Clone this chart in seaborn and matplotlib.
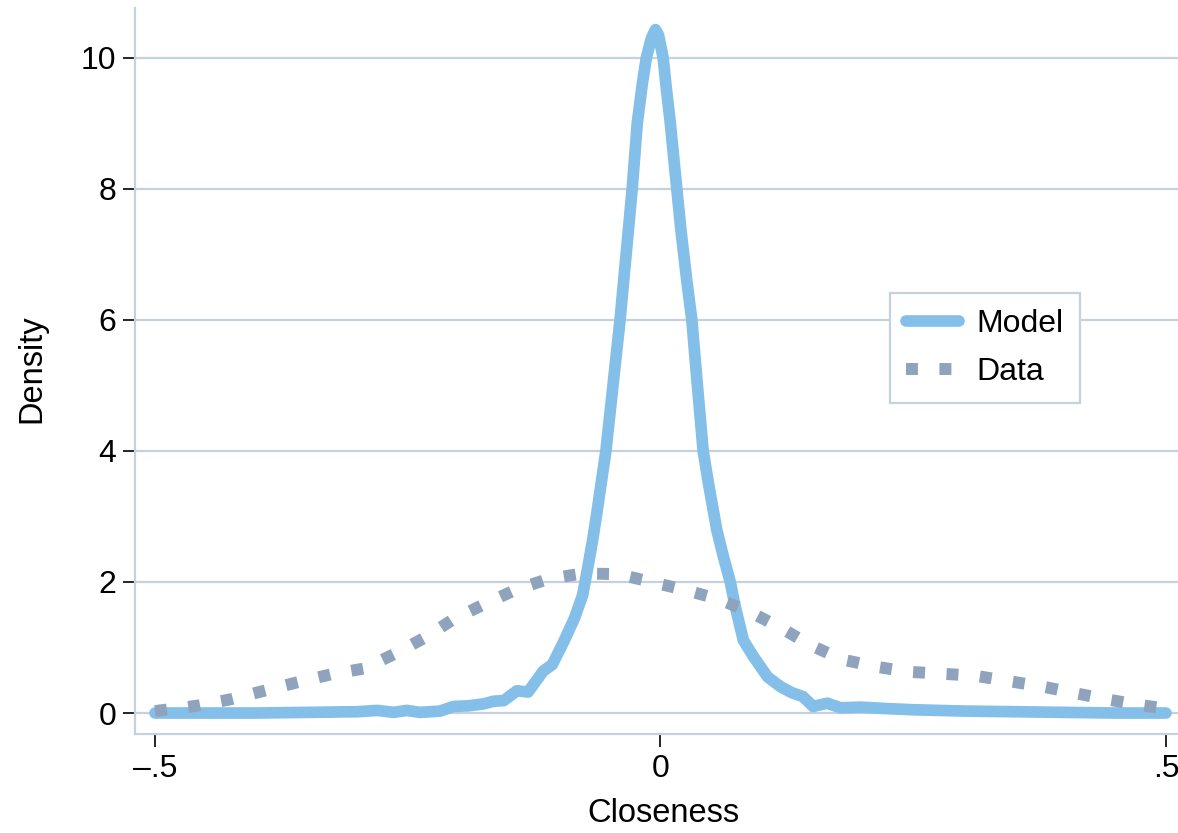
import numpy as np
import pandas as pd
import matplotlib
matplotlib.use("Agg")
import matplotlib.pyplot as plt
import seaborn as sns

# ---- data ----
model_x = [-0.5, -0.45, -0.40, -0.35, -0.30, -0.28, -0.264, -0.251, -0.238, -0.218,
           -0.205, -0.19, -0.175, -0.165, -0.155, -0.142, -0.131, -0.116, -0.107, -0.096,
           -0.085, -0.077, -0.071, -0.067, -0.063, -0.054, -0.047, -0.040, -0.034, -0.028,
           -0.023, -0.018, -0.014, -0.009, -0.005, -0.002, 0.0026, 0.006, 0.0094, 0.0155,
           0.020, 0.026, 0.031, 0.0365, 0.0422, 0.0475, 0.0556, 0.062, 0.069, 0.074,
           0.082, 0.092, 0.106, 0.119, 0.130, 0.141, 0.151, 0.165, 0.178, 0.198,
           0.221, 0.25, 0.30, 0.35, 0.40, 0.45, 0.5]
model_y = [0.0, 0.0, 0.0, 0.01, 0.02, 0.04, 0.01, 0.04, 0.01, 0.03,
           0.10, 0.11, 0.14, 0.18, 0.19, 0.34, 0.32, 0.64, 0.74, 1.08,
           1.45, 1.80, 2.30, 2.65, 3.05, 4.0, 5.0, 6.0, 7.0, 8.0,
           9.0, 9.6, 10.0, 10.3, 10.43, 10.35, 10.0, 9.5, 9.05, 8.1,
           7.4, 6.6, 6.0, 5.0, 4.0, 3.5, 2.8, 2.4, 2.0, 1.62,
           1.11, 0.86, 0.55, 0.40, 0.31, 0.25, 0.10, 0.15, 0.08, 0.09,
           0.07, 0.05, 0.03, 0.02, 0.01, 0.0, 0.0]

data_x = [-0.5, -0.459, -0.425, -0.392, -0.359, -0.326, -0.293, -0.262, -0.232, -0.204,
          -0.173, -0.142, -0.110, -0.077, -0.042, -0.009, 0.024, 0.057, 0.089, 0.119,
          0.148, 0.179, 0.212, 0.245, 0.278, 0.311, 0.343, 0.376, 0.408, 0.441,
          0.475, 0.5]
data_y = [0.03, 0.11, 0.21, 0.34, 0.47, 0.59, 0.68, 0.91, 1.16, 1.44,
          1.67, 1.89, 2.05, 2.13, 2.12, 2.0, 1.88, 1.74, 1.54, 1.30,
          1.04, 0.82, 0.71, 0.63, 0.60, 0.57, 0.49, 0.41, 0.31, 0.21,
          0.12, 0.07]

series_labels = ["Model", "Data"]
x_ticks = [-0.5, 0, 0.5]
x_ticklabels = ["\u2013.5", "0", ".5"]
y_ticks = [0, 2, 4, 6, 8, 10]
y_ticklabels = ["0", "2", "4", "6", "8", "10"]
x_label = "Closeness"
y_label = "Density"

MODEL_COLOR = "#83bfe8"
DATA_COLOR = "#8fa3bc"
GRID_COLOR = "#c6d1de"

sns.set_theme(style="white")
plt.rcParams["font.family"] = ["Liberation Sans", "DejaVu Sans"]
plt.rcParams["text.color"] = "black"

W, H = 1178, 833
fig = plt.figure(figsize=(W / 100, H / 100), dpi=100)
ax = fig.add_axes([135 / W, 1 - 734 / H, (W - 135) / W, (734 - 8) / H])

df_model = pd.DataFrame({"x": model_x, "y": model_y})
df_data = pd.DataFrame({"x": data_x, "y": data_y})

sns.lineplot(data=df_model, x="x", y="y", ax=ax, color=MODEL_COLOR, linewidth=8.4,
             label=series_labels[0], estimator=None, sort=False,
             solid_capstyle="round", solid_joinstyle="round", zorder=3)
sns.lineplot(data=df_data, x="x", y="y", ax=ax, color=DATA_COLOR, linewidth=8.6,
             label=series_labels[1], estimator=None, sort=False,
             linestyle=(0, (1, 1.8)), dash_capstyle="butt", zorder=4)

ax.set_xlim(-0.5198, 0.5119)
ax.set_ylim(-0.32, 10.76)

ax.set_xticks(x_ticks)
ax.set_xticklabels(x_ticklabels)
ax.set_yticks(y_ticks)
ax.set_yticklabels(y_ticklabels)

ax.tick_params(axis="y", which="major", left=True, length=8.6, width=1.2,
               color="black", pad=5.0, labelsize=23, labelcolor="black")
ax.tick_params(axis="x", which="major", bottom=True, length=9.4, width=1.2,
               color="black", pad=5.0, labelsize=23, labelcolor="black")

ax.yaxis.grid(True, color=GRID_COLOR, linewidth=1.6)
ax.xaxis.grid(False)
ax.set_axisbelow(True)

for side in ["top", "right"]:
    ax.spines[side].set_visible(False)
for side in ["left", "bottom"]:
    ax.spines[side].set_visible(True)
    ax.spines[side].set_color(GRID_COLOR)
    ax.spines[side].set_linewidth(1.6)

ax.set_xlabel(x_label, fontsize=23.5, color="black", va="center")
ax.xaxis.set_label_coords((663 - 135) / (W - 135), (734 - 813) / (734 - 8))
ax.set_ylabel(y_label, fontsize=23.5, color="black", va="center")
ax.yaxis.set_label_coords((32 - 135) / (W - 135), (734 - 369) / (734 - 8))

handles, labels = ax.get_legend_handles_labels()
leg = ax.legend(handles, labels, loc="center",
                bbox_to_anchor=((985 - 135) / (W - 135), (734 - 348) / (734 - 8)),
                fontsize=23, frameon=True, fancybox=False, framealpha=1,
                edgecolor=GRID_COLOR, handlelength=1.65, handletextpad=0.55,
                labelspacing=0.55, borderpad=0.5, borderaxespad=0,
                labelcolor="black")
leg.get_frame().set_linewidth(1.6)

fig.savefig("out.png", dpi=100)
